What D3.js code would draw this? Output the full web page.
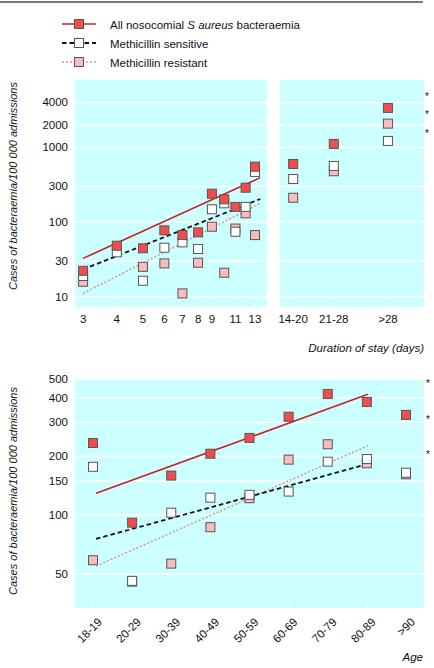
<!DOCTYPE html>
<html><head><meta charset="utf-8">
<script src="https://cdn.jsdelivr.net/npm/d3@7"></script>
<style>
html,body{margin:0;padding:0;background:#fff;}
svg text{font-family:"Liberation Sans",Arial,Helvetica,sans-serif;fill:#111;}
</style></head>
<body><svg id="c" width="434" height="668"></svg>
<script>
// ---- data ----
const days = [3,4,5,6,7,8,9,10,11,12,13];
const dayTicks = [3,4,5,6,7,8,9,11,13];
const allDays  = [22.3,48.3,44.6,77.6,67.1,73,240,202,160,289,553];
const sensDays = [19,39.4,16.4,45.4,53.6,43.6,148.5,178.6,74.3,160,470];
const resDays  = [15.9,null,25.2,28,11.1,28.6,86.7,21,82,131,67];
const trendDayRange = [3,13.6];
const trendAllDays  = [32.7,394];
const trendSensDays = [23.3,204];
const trendResDays  = [11.1,178.6];

const longStay = ["14-20","21-28",">28"];
const longStayDays = [17,24,38];
const allLong  = [601,1114,3383];
const sensLong = [378,565,1222];
const resLong  = [212,480,2084];

const yTicksTop = [10,30,100,300,1000,2000,4000];

const ages = ["18-19","20-29","30-39","40-49","50-59","60-69","70-79","80-89",">90"];
const allAge  = [234.5,91.4,159.5,206.6,249,320,419,381,327];
const sensAge = [177,45.9,102.8,122.8,127,132,188,194,165];
const resAge  = [58.6,45.5,56.3,86.6,122,192.6,231,184.5,162];
const trendAgeRange = ["18-19","80-89"];
const trendAllAge  = [129.4,417];
const trendSensAge = [75.4,183];
const trendResAge  = [54.7,227];
const yTicksBottom = [50,100,150,200,300,400,500];

// ---- styles ----
const BG = "#ccffff";
const FS = "11.5px";
const series = [
  {key:"res",  fill:"#fcbcbc", line:"#d99a9a", dash:"2,2", width:1.6},
  {key:"sens", fill:"#ffffff", line:"#111111", dash:"4.5,3", width:1.8},
  {key:"all",  fill:"#f24c4c", line:"#cc1f1f", dash:null, width:1.6}
];
const SQ = 9;

const svg = d3.select("#c");

// top rule
svg.append("line").attr("x1",0).attr("x2",423).attr("y1",2).attr("y2",2)
  .attr("stroke","#777").attr("stroke-width",2);

// legend
const legendItems = [
  {s:series[2], parts:[["All nosocomial ",false],["S aureus",true],[" bacteraemia",false]]},
  {s:series[1], parts:[["Methicillin sensitive",false]]},
  {s:series[0], parts:[["Methicillin resistant",false]]}
];
legendItems.forEach((it,i)=>{
  const y = 24 + i*19;
  svg.append("line").attr("x1",62).attr("x2",96).attr("y1",y).attr("y2",y)
    .attr("stroke",it.s.line).attr("stroke-width",it.s.width)
    .attr("stroke-dasharray",it.s.dash);
  svg.append("rect").attr("x",79-SQ/2).attr("y",y-SQ/2).attr("width",SQ).attr("height",SQ)
    .attr("fill",it.s.fill).attr("stroke","#555").attr("stroke-width",1);
  const t = svg.append("text").attr("x",110).attr("y",y+4.5).style("font-size",FS)
    .attr("xml:space","preserve");
  it.parts.forEach(p=>t.append("tspan").text(p[0]).style("font-style",p[1]?"italic":"normal"));
});

function panelBg(x0,x1,y0,y1){
  svg.append("rect").attr("x",x0).attr("y",y0).attr("width",x1-x0).attr("height",y1-y0).attr("fill",BG);
}
function hGrid(y,ticks,x0,x1){
  ticks.forEach(t=>{
    svg.append("line").attr("x1",x0).attr("x2",x1).attr("y1",y(t)).attr("y2",y(t))
      .attr("stroke","#fff").attr("stroke-width",1.5);
  });
}
function tickMarks(xs,yb){
  xs.forEach(x=>{
    svg.append("line").attr("x1",x).attr("x2",x).attr("y1",yb-4).attr("y2",yb)
      .attr("stroke","#fff").attr("stroke-width",1.2);
  });
}
function squares(xs,vals,y,fill){
  xs.forEach((x,i)=>{
    if(vals[i]==null) return;
    svg.append("rect").attr("x",x-SQ/2).attr("y",y(vals[i])-SQ/2).attr("width",SQ).attr("height",SQ)
      .attr("fill",fill).attr("stroke","#555").attr("stroke-width",1);
  });
}
function trend(x0,x1,v,y,s){
  svg.append("line").attr("x1",x0).attr("x2",x1).attr("y1",y(v[0])).attr("y2",y(v[1]))
    .attr("stroke",s.line).attr("stroke-width",s.width).attr("stroke-dasharray",s.dash);
}
function yLabels(y,ticks,x){
  ticks.forEach(t=>{
    svg.append("text").attr("x",x).attr("y",y(t)+4).attr("text-anchor","end")
      .style("font-size",FS).text(t);
  });
}
function stars(x,ys){
  ys.forEach(yy=>svg.append("text").attr("x",x).attr("y",yy+5).style("font-size","10px").text("*"));
}
function yTitle(cy){
  svg.append("text").attr("transform",`translate(17,${cy}) rotate(-90)`).attr("text-anchor","middle")
    .style("font-size","11px").style("font-style","italic")
    .text("Cases of bacteraemia/100 000 admissions");
}

// ---- top panels ----
const T = {y0:80, y1:307, lx0:75, lx1:267, rx0:280, rx1:424};
const yTop = d3.scaleLog().domain([7.3,8000]).range([T.y1,T.y0]);
const xDay = d3.scaleLog().domain([2.8,14.4]).range([T.lx0,T.lx1]);
const xLong = d3.scaleLog().domain([15.2,51.6]).range([T.rx0,T.rx1]);

panelBg(T.lx0,T.lx1,T.y0,T.y1);
panelBg(T.rx0,T.rx1,T.y0,T.y1);
hGrid(yTop,yTicksTop,T.lx0,T.lx1);
hGrid(yTop,yTicksTop,T.rx0,T.rx1);
tickMarks(dayTicks.map(d=>xDay(d)),T.y1);
tickMarks(longStayDays.map(d=>xLong(d)),T.y1);

const trendTop = {res:trendResDays,sens:trendSensDays,all:trendAllDays};
const valsTopL = {res:resDays,sens:sensDays,all:allDays};
const valsTopR = {res:resLong,sens:sensLong,all:allLong};
series.forEach(s=>trend(xDay(trendDayRange[0]),xDay(trendDayRange[1]),trendTop[s.key],yTop,s));
series.forEach(s=>{
  squares(days.map(d=>xDay(d)),valsTopL[s.key],yTop,s.fill);
  squares(longStayDays.map(d=>xLong(d)),valsTopR[s.key],yTop,s.fill);
});
yLabels(yTop,yTicksTop,68);
dayTicks.forEach(d=>svg.append("text").attr("x",xDay(d)).attr("y",T.y1+16).attr("text-anchor","middle")
  .style("font-size",FS).text(d));
longStay.forEach((c,i)=>svg.append("text").attr("x",xLong(longStayDays[i])).attr("y",T.y1+16).attr("text-anchor","middle")
  .style("font-size",FS).text(c));
svg.append("text").attr("x",424).attr("y",352).attr("text-anchor","end")
  .style("font-size",FS).style("font-style","italic").text("Duration of stay (days)");
stars(425,[95,112.7,132.3]);
yTitle(186);

// ---- bottom panel ----
const B = {y0:379, y1:608, x0:75, x1:424};
const yBot = d3.scaleLog().domain([33.3,500]).range([B.y1,B.y0]);
const xAge = d3.scalePoint().domain(ages).range([B.x0,B.x1]).padding(0.46);

panelBg(B.x0,B.x1,B.y0,B.y1);
hGrid(yBot,yTicksBottom,B.x0,B.x1);
tickMarks(ages.map(a=>xAge(a)),B.y1);
const trendBot = {res:trendResAge,sens:trendSensAge,all:trendAllAge};
const valsBot = {res:resAge,sens:sensAge,all:allAge};
series.forEach(s=>trend(xAge(trendAgeRange[0])+3,xAge(trendAgeRange[1])+1,trendBot[s.key],yBot,s));
series.forEach(s=>squares(ages.map(a=>xAge(a)),valsBot[s.key],yBot,s.fill));
yLabels(yBot,yTicksBottom,68);
ages.forEach(a=>svg.append("text").attr("transform",`translate(${xAge(a)+4},${B.y1+9}) rotate(-45)`)
  .attr("text-anchor","end").attr("dy","0.7em").style("font-size",FS).text(a));
svg.append("text").attr("x",423).attr("y",661).attr("text-anchor","end")
  .style("font-size",FS).style("font-style","italic").text("Age");
stars(426,[381.7,418.3,452.7]);
yTitle(491);
</script></body></html>
